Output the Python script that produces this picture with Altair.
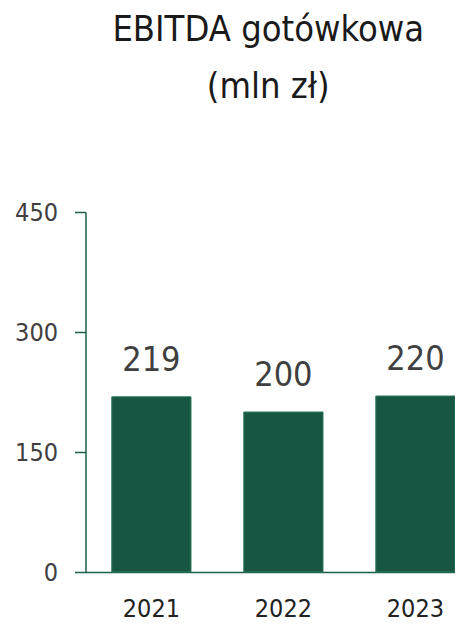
import altair as alt
import pandas as pd

years = ["2021", "2022", "2023"]
values = [219, 200, 220]
y_ticks = [0, 150, 300, 450]
title_lines = ["EBITDA gotówkowa", "(mln zł)"]

df = pd.DataFrame({"year": years, "value": values})

FONT = "DejaVu Sans Condensed, Liberation Sans Narrow, sans-serif"
GREEN = "#175642"
AXIS_GREEN = "#1d5e48"
TEXT = "#404040"

base = alt.Chart(df).encode(
    x=alt.X(
        "year:N",
        title=None,
        sort=years,
        scale=alt.Scale(paddingInner=0.4, paddingOuter=0.0996, align=1),
        axis=alt.Axis(
            labelAngle=0,
            ticks=False,
            domain=True,
            domainColor=AXIS_GREEN,
            domainWidth=1.5,
            labelFont=FONT,
            labelFontSize=25,
            labelColor="#222222",
            labelPadding=24,
            grid=False,
        ),
    ),
    y=alt.Y(
        "value:Q",
        title=None,
        scale=alt.Scale(domain=[0, 450]),
        axis=alt.Axis(
            values=y_ticks,
            grid=False,
            domainColor=AXIS_GREEN,
            domainWidth=1.5,
            tickColor=AXIS_GREEN,
            tickWidth=1.5,
            tickSize=11,
            labelPadding=17,
            labelFont=FONT,
            labelFontSize=25,
            labelColor=TEXT,
        ),
    ),
)

bars = base.mark_bar(color=GREEN, stroke="#2b7a5c", strokeWidth=1)
labels = base.mark_text(
    dy=-26, baseline="alphabetic", fontSize=34, font=FONT, color=TEXT
).encode(text="value:Q")

chart = (
    alt.layer(bars, labels)
    .properties(
        width=369.5,
        height=360,
        autosize=alt.AutoSizeParams(type="none"),
        padding={"left": 77.5, "top": 204, "right": 0, "bottom": 50},
        title=alt.TitleParams(
            text=title_lines,
            font=FONT,
            fontSize=36,
            fontWeight="normal",
            color="#1a1a1a",
            anchor="middle",
            dx=-2,
            offset=94,
            lineHeight=57,
        ),
    )
    .configure_view(stroke=None)
)

chart.save("out.html", embed_options={"renderer": "svg", "actions": False})
